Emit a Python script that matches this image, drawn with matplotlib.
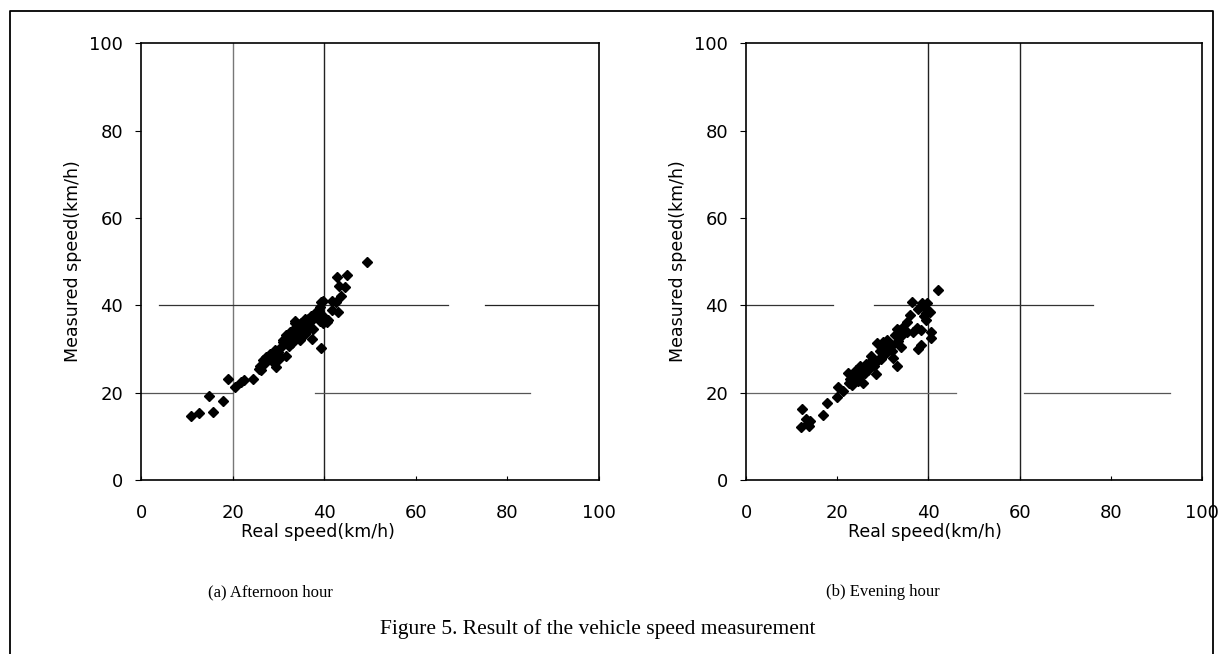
import matplotlib.pyplot as plt
from matplotlib.lines import Line2D

# (a) afternoon hour: real speed vs measured speed (km/h)
afternoon_real = [11.0, 12.7, 14.8, 15.8, 17.9, 19.0, 20.5, 21.8, 22.4, 24.4,
                  25.7, 25.9, 26.3, 26.6, 27.0, 27.3, 27.8, 28.1, 28.4, 28.9,
                  29.2, 29.4, 29.5, 29.8, 30.2, 30.3, 30.6, 31.0, 31.0, 31.6,
                  31.7, 31.7, 32.2, 32.3, 32.5, 32.8, 33.0, 33.0, 33.2, 33.4,
                  33.6, 33.7, 34.0, 34.2, 34.4, 34.7, 34.7, 35.0, 35.1, 35.4,
                  35.6, 35.8, 35.9, 36.0, 36.3, 36.5, 36.8, 37.0, 37.2, 37.4,
                  37.6, 38.0, 38.3, 38.6, 38.8, 39.0, 39.1, 39.3, 39.4, 39.7,
                  39.8, 39.9, 40.5, 40.9, 41.6, 41.6, 42.6, 42.7, 43.1, 43.3,
                  43.6, 44.5, 44.9, 49.3]
afternoon_measured = [14.7, 15.4, 19.2, 15.6, 18.1, 23.2, 21.3, 22.4, 22.9, 23.2,
                      25.5, 26.2, 25.1, 27.4, 26.7, 28.1, 27.6, 28.9, 28.0, 27.0,
                      29.7, 25.9, 28.8, 29.3, 27.6, 28.5, 30.4, 31.6, 32.0, 28.3,
                      33.1, 31.6, 33.5, 30.7, 33.8, 32.5, 31.4, 34.2, 32.7, 33.0,
                      36.3, 35.9, 34.6, 34.0, 33.2, 35.7, 32.1, 36.0, 34.7, 34.6,
                      36.2, 36.9, 33.5, 35.5, 34.2, 36.9, 35.0, 36.2, 37.5, 32.3,
                      34.6, 37.6, 38.4, 37.0, 38.8, 39.5, 36.4, 30.3, 40.7, 41.0,
                      36.0, 37.3, 36.1, 36.6, 40.9, 38.9, 40.7, 46.4, 38.4, 44.5,
                      42.2, 44.3, 46.9, 50.0]

# (b) evening hour
evening_real = [12.2, 12.1, 13.1, 13.5, 14.1, 13.7, 16.8, 17.8, 19.9, 20.2,
                21.2, 22.3, 22.5, 22.9, 23.3, 23.5, 23.8, 24.0, 24.2, 24.5,
                24.6, 24.8, 25.0, 25.0, 25.5, 25.7, 25.9, 26.0, 26.3, 26.8,
                27.0, 27.2, 27.4, 28.0, 28.6, 28.7, 28.9, 29.3, 29.7, 30.0,
                30.2, 30.6, 31.0, 31.5, 31.9, 31.9, 32.3, 32.7, 33.0, 33.2,
                33.4, 33.8, 34.0, 34.0, 34.3, 35.3, 35.4, 36.0, 36.4, 36.6,
                37.4, 37.6, 37.7, 38.3, 38.3, 38.5, 39.0, 39.1, 39.4, 39.4,
                39.7, 40.4, 40.6, 40.6, 42.0]
evening_measured = [16.2, 12.1, 14.0, 13.0, 13.5, 12.4, 15.0, 17.6, 19.1, 21.3,
                    20.3, 24.6, 22.2, 23.2, 21.7, 22.5, 23.7, 24.0, 25.1, 25.5,
                    22.7, 23.5, 26.1, 25.1, 24.2, 22.2, 25.6, 24.5, 26.6, 25.1,
                    26.0, 27.1, 28.5, 26.1, 24.3, 31.4, 27.5, 29.5, 27.8, 31.5,
                    30.4, 29.0, 32.1, 30.0, 30.9, 29.5, 28.0, 33.3, 34.5, 26.1,
                    31.9, 34.3, 30.4, 33.0, 34.8, 36.2, 33.8, 37.7, 40.8, 33.8,
                    34.8, 30.0, 39.1, 30.9, 34.3, 40.6, 37.5, 39.6, 36.7, 38.2,
                    40.6, 38.5, 33.8, 32.4, 43.5]

ticks = [0, 20, 40, 60, 80, 100]

fig = plt.figure(figsize=(12.21, 6.54), dpi=100)
fig.patch.set_facecolor('white')

ax1 = fig.add_axes([0.1155, 0.266, 0.3751, 0.668])
ax2 = fig.add_axes([0.611, 0.266, 0.3735, 0.668])


def style(ax, xlab_pos):
    ax.set_xlim(0, 100)
    ax.set_ylim(0, 100)
    ax.set_xticks(ticks)
    ax.set_yticks(ticks)
    for s in ax.spines.values():
        s.set_linewidth(1.2)
        s.set_color('black')
    ax.tick_params(axis='x', direction='in', length=3, pad=17, labelsize=13)
    ax.tick_params(axis='y', direction='out', length=4, pad=9, labelsize=13)
    ax.tick_params(top=False, right=False)
    ax.set_xlabel('Real speed(km/h)', fontsize=12.5, labelpad=1, x=xlab_pos)
    ax.set_ylabel('Measured speed(km/h)', fontsize=12.5, labelpad=5)


style(ax1, 0.386)
style(ax2, 0.393)

# partial gridlines as they survive in the scan
ax1.axvline(20, color='#777777', lw=1.0, zorder=1)
ax1.axvline(40, color='#222222', lw=1.0, zorder=1)
ax1.axhline(40, xmin=0.04, xmax=0.67, color='#333333', lw=0.9, zorder=1)
ax1.axhline(40, xmin=0.75, xmax=1.0, color='#222222', lw=0.9, zorder=1)
ax1.axhline(20, xmin=0.0, xmax=0.20, color='#555555', lw=0.9, zorder=1)
ax1.axhline(20, xmin=0.38, xmax=0.85, color='#555555', lw=0.9, zorder=1)

ax2.axvline(40, color='#222222', lw=1.0, zorder=1)
ax2.axvline(60, color='#222222', lw=1.0, zorder=1)
ax2.axhline(40, xmin=0.0, xmax=0.19, color='#333333', lw=0.9, zorder=1)
ax2.axhline(40, xmin=0.28, xmax=0.76, color='#333333', lw=0.9, zorder=1)
ax2.axhline(20, xmin=0.0, xmax=0.46, color='#666666', lw=0.9, zorder=1)
ax2.axhline(20, xmin=0.61, xmax=0.93, color='#555555', lw=0.9, zorder=1)

ax1.plot(afternoon_real, afternoon_measured, 'D', color='black', ms=5,
         ls='none', zorder=3)
ax2.plot(evening_real, evening_measured, 'D', color='black', ms=5,
         ls='none', zorder=3)

# captions
serif = ['Liberation Serif', 'DejaVu Serif']
fig.text(270 / 1221, 1 - 592 / 654, '(a) Afternoon hour', ha='center',
         va='center', fontsize=12, family=serif)
fig.text(883 / 1221, 1 - 592 / 654, '(b) Evening hour', ha='center',
         va='center', fontsize=12, family=serif)
fig.text(380 / 1221, 1 - 629 / 654,
         'Figure 5. Result of the vehicle speed measurement', ha='left',
         va='center', fontsize=15.5, family=serif)

# outer frame (bottom edge is cut off in the scan)
fx = [9.5 / 1221, 9.5 / 1221, 1213 / 1221, 1213 / 1221]
fy = [0.0, 1 - 11 / 654, 1 - 11 / 654, 0.0]
fig.add_artist(Line2D(fx, fy, transform=fig.transFigure, color='black', lw=1.3))

fig.savefig('out.png', dpi=100)
